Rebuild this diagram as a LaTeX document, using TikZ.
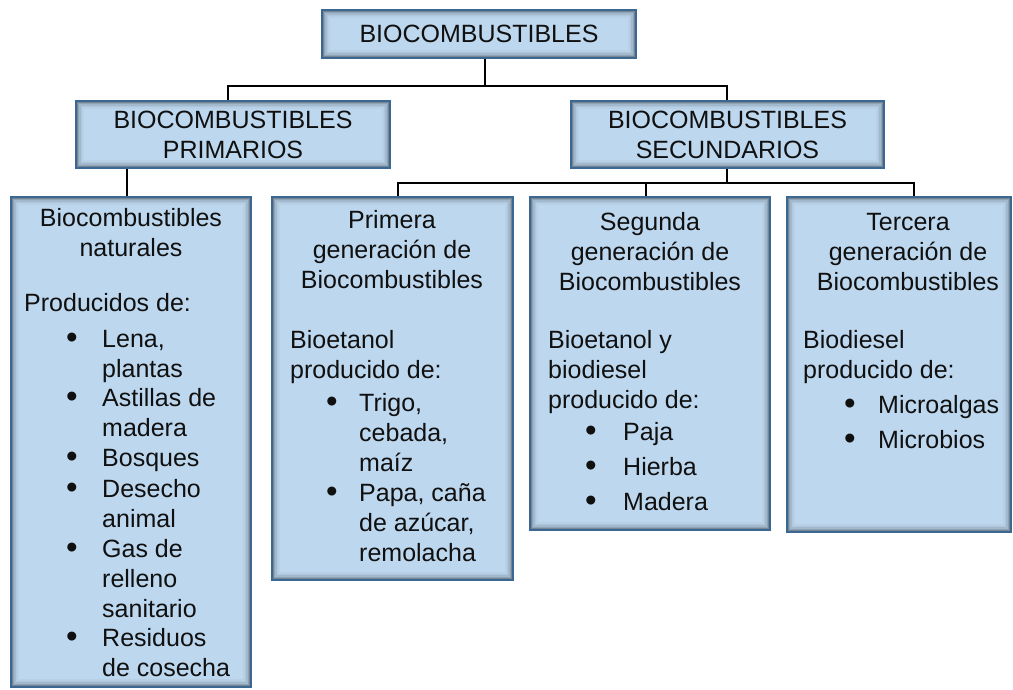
\documentclass[tikz,border=0pt]{standalone}
\usepackage{fontspec}
\setmainfont{Liberation Sans}
\definecolor{boxfill}{HTML}{BDD7EE}
\definecolor{boxborder}{HTML}{3A6893}
\definecolor{txtcol}{HTML}{101010}
\newcommand\bodyfont{\fontsize{25}{30}\selectfont}
\newcommand\bulfont{\fontsize{33}{30}\selectfont}
\begin{document}
\begin{tikzpicture}[x=1pt,y=-1pt,
  box/.style={draw=boxborder, line width=1.4pt, fill=boxfill, inner sep=0pt,
    align=center, font=\bodyfont, text=txtcol,
    path picture={
      \foreach \i/\o in {1.2/0.38,2.6/0.24,4/0.14,5.4/0.07,6.8/0.03}{
        \draw[black, draw opacity=\o, line width=1.5pt]
          ([shift={(\i pt,\i pt)}]path picture bounding box.south west) rectangle
          ([shift={(-\i pt,-\i pt)}]path picture bounding box.north east);}
    }},
  conn/.style={draw=black, line width=2.5pt},
  txt/.style={anchor=north west, align=left, inner sep=0pt, font=\bodyfont, text=txtcol},
  head/.style={anchor=north, align=center, inner sep=0pt, font=\bodyfont, text=txtcol},
  bul/.style={anchor=base, inner sep=0pt, font=\bulfont, text=txtcol}
]
\useasboundingbox (0,0) rectangle (1013,689);
\fill[white] (0,0) rectangle (1013,689);

% boxes
\node[box, minimum width=314pt, minimum height=48pt] (top) at (479,34) {BIOCOMBUSTIBLES};
\node[box, minimum width=314pt, minimum height=67pt] (prim) at (233,134.5) {BIOCOMBUSTIBLES\\PRIMARIOS};
\node[box, minimum width=313pt, minimum height=67pt] (sec) at (727.5,134.5) {BIOCOMBUSTIBLES\\SECUNDARIOS};
\node[box, minimum width=240pt, minimum height=490pt] (nat) at (131,442) {};
\node[box, minimum width=241pt, minimum height=383pt] (gen1) at (392.5,388.5) {};
\node[box, minimum width=240pt, minimum height=333pt] (gen2) at (650,363.5) {};
\node[box, minimum width=224pt, minimum height=335pt] (gen3) at (899,364.5) {};

% connectors
\coordinate (j0) at (485,86);
\coordinate (jp) at (228,86);
\coordinate (js) at (727,86);
\draw[conn] (top.south -| j0) -- (j0);
\draw[conn] (prim.north -| jp) |- (j0) -| (sec.north -| js);
\coordinate (p0) at (127,180);
\draw[conn] (prim.south -| p0) -- (nat.north -| p0);
\coordinate (k0) at (727,183);
\coordinate (k1) at (398,183);
\coordinate (k2) at (646,183);
\coordinate (k3) at (914,183);
\draw[conn] (sec.south -| k0) -- (k0);
\draw[conn] (gen1.north -| k1) |- (k3) -- (gen3.north -| k3);
\draw[conn] (k2) -- (gen2.north -| k2);

% natural
\node[head] (natH) at (131,218-13) {\strut Biocombustibles\\naturales};
\node[txt] (natP) at (24,303-13) {\strut Producidos de:};
\node[bul] (n1b) at (72,339+9) {\textbullet};
\node[txt] (n1) at (102,339-13) {\strut Lena,\\plantas};
\node[bul] (n2b) at (72,398+9) {\textbullet};
\node[txt] (n2) at (102,398-13) {\strut Astillas de\\madera};
\node[bul] (n3b) at (72,458+9) {\textbullet};
\node[txt] (n3) at (102,458-13) {\strut Bosques};
\node[bul] (n4b) at (72,489+9) {\textbullet};
\node[txt] (n4) at (102,489-13) {\strut Desecho\\animal};
\node[bul] (n5b) at (72,549+9) {\textbullet};
\node[txt] (n5) at (102,549-13) {\strut Gas de\\relleno\\sanitario};
\node[bul] (n6b) at (72,638+9) {\textbullet};
\node[txt] (n6) at (102,638-13) {\strut Residuos\\de cosecha};

% primera
\node[head] (g1H) at (392,220-13) {\strut Primera\\generación de\\Biocombustibles};
\node[txt] (g1P) at (290,340-13) {\strut Bioetanol\\producido de:};
\node[bul] (a1b) at (332,403+9) {\textbullet};
\node[txt] (a1) at (359,403-13) {\strut Trigo,\\cebada,\\maíz};
\node[bul] (a2b) at (332,493+9) {\textbullet};
\node[txt] (a2) at (359,493-13) {\strut Papa, caña\\de azúcar,\\remolacha};

% segunda
\node[head] (g2H) at (650,222-13) {\strut Segunda\\generación de\\Biocombustibles};
\node[txt] (g2P) at (548,340-13) {\strut Bioetanol y\\biodiesel\\producido de:};
\node[bul] (b1b) at (591,432+9) {\textbullet};
\node[txt] (b1) at (623,432-13) {\strut Paja};
\node[bul] (b2b) at (591,467+9) {\textbullet};
\node[txt] (b2) at (623,467-13) {\strut Hierba};
\node[bul] (b3b) at (591,502+9) {\textbullet};
\node[txt] (b3) at (623,502-13) {\strut Madera};

% tercera
\node[head] (g3H) at (908,222-13) {\strut Tercera\\generación de\\Biocombustibles};
\node[txt] (g3P) at (803,340-13) {\strut Biodiesel\\producido de:};
\node[bul] (c1b) at (850,405+9) {\textbullet};
\node[txt] (c1) at (878,405-13) {\strut Microalgas};
\node[bul] (c2b) at (850,440+9) {\textbullet};
\node[txt] (c2) at (878,440-13) {\strut Microbios};
\end{tikzpicture}
\end{document}
